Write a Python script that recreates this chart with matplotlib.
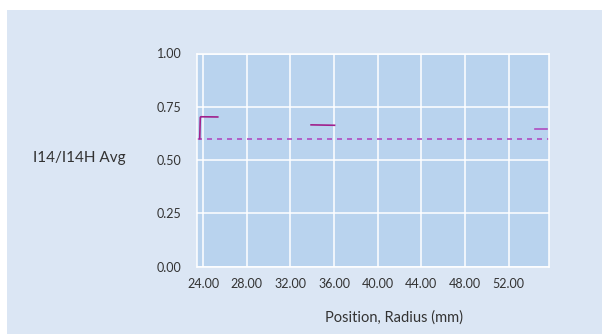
import matplotlib.pyplot as plt
from matplotlib.patches import Rectangle

plt.rcParams['font.family'] = ['Lato', 'DejaVu Sans']

# data
avg_limit = 0.60
seg1_x = [23.70, 23.75, 23.80, 25.35]
seg1_y = [0.600, 0.700, 0.703, 0.702]
seg2_x = [33.90, 36.05]
seg2_y = [0.665, 0.663]
seg3_x = [54.45, 55.50]
seg3_y = [0.646, 0.646]
x_ticks = [24, 28, 32, 36, 40, 44, 48, 52]
y_ticks = [0.0, 0.25, 0.5, 0.75, 1.0]

W, H = 602, 334
fig = plt.figure(figsize=(W / 100, H / 100), dpi=100)
fig.patch.set_facecolor('white')
fig.patches.append(Rectangle((7 / W, 0), 1 - 7 / W, 1 - 10 / H,
                             transform=fig.transFigure, facecolor='#dbe6f4',
                             edgecolor='none', zorder=-5))

ax = fig.add_axes([197 / W, (H - 266.5) / H, (549.3 - 197) / W, (266.5 - 53.5) / H])
ax.set_facecolor('#b9d3ee')
ax.set_xlim(23.45, 55.72)
ax.set_ylim(0, 1)
ax.set_xticks(x_ticks)
ax.set_xticklabels([f'{v:.2f}' for v in x_ticks])
ax.set_yticks(y_ticks)
ax.set_yticklabels([f'{v:.2f}' for v in y_ticks])
ax.tick_params(length=0, labelsize=9, colors='#333333')
ax.tick_params(axis='y', pad=11)
ax.tick_params(axis='x', pad=8)
ax.grid(True, color='white', linewidth=1.1)
ax.set_axisbelow(True)
for s in ax.spines.values():
    s.set_color('white')
    s.set_linewidth(1.1)

ax.axhline(avg_limit, color='#b04cc0', linestyle=(0, (3, 3)), linewidth=1.2)
line_col = '#a0208c'
ax.plot(seg1_x, seg1_y, color=line_col, linewidth=1.2)
ax.plot(seg2_x, seg2_y, color=line_col, linewidth=1.2)
ax.plot(seg3_x, seg3_y, color='#b04cc0', linewidth=1.2)

fig.text(33 / W, 1 - 158 / H, 'I14/I14H Avg', fontsize=11, color='#333333',
         ha='left', va='center')
fig.text(394 / W, 1 - 318 / H, 'Position, Radius (mm)', fontsize=10.5,
         color='#333333', ha='center', va='center')

fig.savefig('out.png', dpi=100, facecolor=fig.get_facecolor())
